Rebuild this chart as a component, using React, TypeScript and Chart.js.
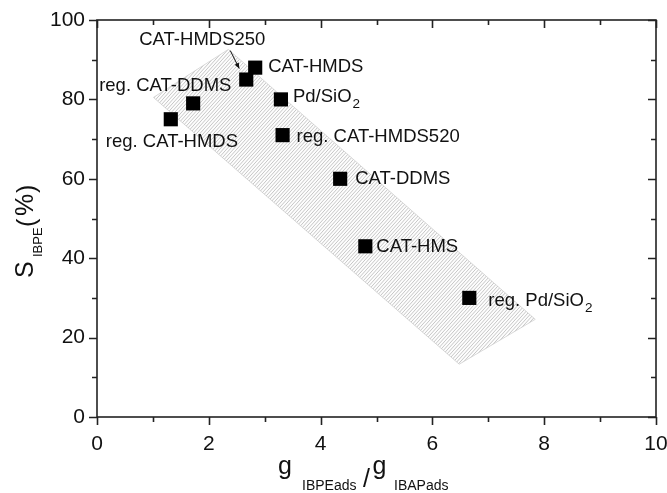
import React, { useEffect, useRef } from "react";
import { Chart, registerables } from "chart.js";

Chart.register(...registerables);

// ---- data ----
const sampleNames = [
  "reg. CAT-HMDS",
  "reg. CAT-DDMS",
  "CAT-HMDS250",
  "CAT-HMDS",
  "Pd/SiO_2",
  "reg. CAT-HMDS520",
  "CAT-DDMS",
  "CAT-HMS",
  "reg. Pd/SiO_2",
];
const gRatio = [1.32, 1.72, 2.67, 2.83, 3.29, 3.32, 4.35, 4.8, 6.66];
const selectivity = [75, 79, 85, 88, 80, 71, 60, 43, 30];
const bandX = [1.01, 2.35, 7.84, 6.48];
const bandY = [80.5, 92.6, 24.6, 13.3];
const xTickValues = [0, 2, 4, 6, 8, 10];
const yTickValues = [0, 20, 40, 60, 80, 100];

// label placement relative to its point (pixels)
const labelDx = [-65, -94, -107, 13, 12, 14, 15, 11, 19];
const labelDy = [28, -12, -35, 4.5, 3, 7, 5, 6, 8];

const FONT = '"Liberation Sans", Arial, Helvetica, sans-serif';
const INK = "#111";

function drawRich(
  ctx: CanvasRenderingContext2D,
  text: string,
  x: number,
  y: number,
  size: number,
  subSize: number,
  subDrop: number
) {
  const parts = text.split("_");
  ctx.font = `${size}px ${FONT}`;
  ctx.fillText(parts[0], x, y);
  const w = ctx.measureText(parts[0]).width;
  if (parts[1]) {
    ctx.font = `${subSize}px ${FONT}`;
    ctx.fillText(parts[1], x + w + 1, y + subDrop);
  }
}

const decorPlugin = {
  id: "decor",
  beforeDatasetsDraw(chart: any) {
    const { ctx, chartArea, scales } = chart;
    const xs = scales.x;
    const ys = scales.y;
    const pts = bandX.map((v, i) => [xs.getPixelForValue(v), ys.getPixelForValue(bandY[i])]);
    ctx.save();
    ctx.beginPath();
    pts.forEach((p, i) => (i ? ctx.lineTo(p[0], p[1]) : ctx.moveTo(p[0], p[1])));
    ctx.closePath();
    ctx.fillStyle = "#fdfdfd";
    ctx.fill();
    ctx.strokeStyle = "#dadada";
    ctx.lineWidth = 1;
    ctx.stroke();
    ctx.clip();
    ctx.beginPath();
    const H = chartArea.bottom - chartArea.top;
    for (let k = chartArea.left - H; k < chartArea.right + H; k += 3.4) {
      ctx.moveTo(k, chartArea.bottom);
      ctx.lineTo(k + H * 0.9, chartArea.top);
    }
    ctx.strokeStyle = "#c6c6c6";
    ctx.lineWidth = 1;
    ctx.stroke();
    ctx.restore();
  },
  afterDraw(chart: any) {
    const { ctx, chartArea, scales } = chart;
    const { left, right, top, bottom } = chartArea;
    const xs = scales.x;
    const ys = scales.y;
    ctx.save();
    // frame
    ctx.strokeStyle = "#222";
    ctx.lineWidth = 1.6;
    ctx.strokeRect(left, top, right - left, bottom - top);
    ctx.beginPath();
    for (let v = 0; v <= 10; v += 1) {
      const px = Math.round(xs.getPixelForValue(v)) + 0.5;
      const len = v % 2 === 0 ? 8 : 5;
      ctx.moveTo(px, bottom);
      ctx.lineTo(px, bottom + len);
      ctx.moveTo(px, top);
      ctx.lineTo(px, top + len);
    }
    for (let v = 0; v <= 100; v += 10) {
      const py = Math.round(ys.getPixelForValue(v)) + 0.5;
      const len = v % 20 === 0 ? 8 : 5;
      ctx.moveTo(left, py);
      ctx.lineTo(left - len, py);
      ctx.moveTo(right, py);
      ctx.lineTo(right - len, py);
    }
    ctx.stroke();

    // point labels
    const meta = chart.getDatasetMeta(0);
    ctx.fillStyle = INK;
    ctx.textAlign = "left";
    ctx.textBaseline = "alphabetic";
    sampleNames.forEach((name, i) => {
      const el = meta.data[i];
      drawRich(ctx, name, el.x + labelDx[i], el.y + labelDy[i], 18.5, 13.5, 6);
    });
    // arrow for CAT-HMDS250
    const a = meta.data[2];
    const x0 = a.x - 16, y0 = a.y - 29, x1 = a.x - 7, y1 = a.y - 11;
    ctx.strokeStyle = "#111";
    ctx.lineWidth = 1;
    ctx.beginPath();
    ctx.moveTo(x0, y0);
    ctx.lineTo(x1, y1);
    ctx.stroke();
    const ang = Math.atan2(y1 - y0, x1 - x0);
    ctx.beginPath();
    ctx.moveTo(x1, y1);
    ctx.lineTo(x1 - 6 * Math.cos(ang - 0.4), y1 - 6 * Math.sin(ang - 0.4));
    ctx.lineTo(x1 - 6 * Math.cos(ang + 0.4), y1 - 6 * Math.sin(ang + 0.4));
    ctx.closePath();
    ctx.fill();

    // x axis title
    ctx.fillStyle = INK;
    ctx.font = `25px ${FONT}`;
    ctx.fillText("g", 278, 474);
    ctx.font = `14px ${FONT}`;
    ctx.fillText("IBPEads", 302, 490);
    ctx.font = `25px ${FONT}`;
    ctx.fillText("/", 363, 487);
    ctx.fillText("g", 372.5, 474);
    ctx.font = `14px ${FONT}`;
    ctx.fillText("IBAPads", 394, 490);

    // y axis title (rotated)
    ctx.translate(33.3, 278);
    ctx.rotate(-Math.PI / 2);
    ctx.font = `25px ${FONT}`;
    ctx.fillText("S", 0, 0);
    ctx.font = `13px ${FONT}`;
    ctx.fillText("IBPE", 21, 8.5);
    ctx.font = `25px ${FONT}`;
    ctx.fillText("(", 51, 2);
    ctx.fillText("%", 62, 0);
    ctx.fillText(")", 85, 2);
    ctx.restore();
  },
};

export default function App() {
  const ref = useRef<HTMLCanvasElement | null>(null);
  useEffect(() => {
    if (!ref.current) return;
    const chart = new Chart(ref.current, {
      type: "scatter",
      data: {
        datasets: [
          {
            label: "samples",
            data: gRatio.map((g, i) => ({ x: g, y: selectivity[i] })),
            pointStyle: "rect",
            pointRadius: 10,
            pointHoverRadius: 10,
            backgroundColor: "#000",
            borderColor: "#000",
            borderWidth: 0,
          },
        ],
      },
      options: {
        animation: false,
        responsive: false,
        devicePixelRatio: 1,
        layout: { padding: { top: 20, right: 11, left: 0, bottom: 0 } },
        plugins: { legend: { display: false }, tooltip: { enabled: false } },
        scales: {
          x: {
            type: "linear",
            min: 0,
            max: 10,
            afterBuildTicks: (s: any) => {
              s.ticks = xTickValues.map((v) => ({ value: v }));
            },
            afterFit: (s: any) => {
              s.height = 76;
              s.paddingLeft = 0;
              s.paddingRight = 0;
            },
            grid: { display: false, drawTicks: false },
            border: { display: false },
            ticks: {
              font: { family: FONT, size: 21 },
              color: INK,
              padding: 15,
              maxRotation: 0,
            },
          },
          y: {
            type: "linear",
            min: 0,
            max: 100,
            afterBuildTicks: (s: any) => {
              s.ticks = yTickValues.map((v) => ({ value: v }));
            },
            afterFit: (s: any) => {
              s.width = 97;
              s.paddingTop = 0;
              s.paddingBottom = 0;
            },
            grid: { display: false, drawTicks: false },
            border: { display: false },
            ticks: {
              font: { family: FONT, size: 21 },
              color: INK,
              padding: 12,
            },
          },
        },
      },
      plugins: [decorPlugin],
    });
    return () => chart.destroy();
  }, []);
  return (
    <div style={{ position: "absolute", left: 0, top: 0, width: 667, height: 493, background: "#fff" }}>
      <canvas ref={ref} width={667} height={493} style={{ display: "block" }} />
    </div>
  );
}
